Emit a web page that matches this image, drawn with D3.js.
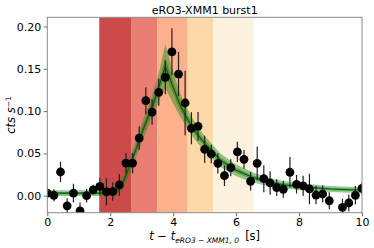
<!DOCTYPE html>
<html>
<head>
<meta charset="utf-8">
<script src="https://cdn.jsdelivr.net/npm/d3@7"></script>
<style>
  body { margin: 0; background: #fff; }
  svg { font-family: "DejaVu Sans", sans-serif; }
</style>
</head>
<body>
<div id="chart-area"></div>
<script>
const times = [0, 0.21, 0.42, 0.63, 0.83, 1.04, 1.25, 1.46, 1.67, 1.88, 2.08, 2.29, 2.5, 2.71, 2.92, 3.13,
  3.33, 3.54, 3.75, 3.96, 4.17, 4.38, 4.58, 4.79, 5.0, 5.21, 5.42, 5.63, 5.83, 6.04, 6.25, 6.46,
  6.67, 6.88, 7.08, 7.29, 7.5, 7.71, 7.92, 8.13, 8.33, 8.54, 8.75, 8.96, 9.38, 9.58, 9.79, 10.0];
const rates = [0.003, 0.0005, 0.028, -0.012, 0.003, -0.018, 0.0, 0.007, 0.011, 0.0045, 0.005, 0.0127, 0.0386, 0.0386, 0.068, 0.1123,
  0.0989, 0.1222, 0.1399, 0.170, 0.1438, 0.1096, 0.0797, 0.082, 0.0548, 0.0493, 0.0383, 0.0236, 0.0331, 0.0517, 0.043, 0.017,
  0.0383, 0.0201, 0.015, 0.0095, 0.0076, 0.0277, 0.0135, 0.0115, 0.008, 0.0008, 0.002, -0.006, -0.0137, -0.0086, 0.0005, 0.0087];
const errors = [0.007, 0.007, 0.012, 0.009, 0.011, 0.010, 0.008, 0.006, 0.010, 0.016, 0.011, 0.013, 0.012, 0.012, 0.014, 0.016,
  0.015, 0.016, 0.020, 0.028, 0.026, 0.038, 0.019, 0.017, 0.016, 0.011, 0.012, 0.012, 0.010, 0.012, 0.011, 0.011,
  0.020, 0.016, 0.014, 0.010, 0.010, 0.018, 0.011, 0.012, 0.018, 0.011, 0.010, 0.010, 0.010, 0.010, 0.011, 0.007];

// model fit: median and half widths of the two bands
const modelT = [0, 1.0, 2.0, 2.2, 2.4, 2.6, 2.8, 3.0, 3.2, 3.4, 3.6, 3.75, 4.0, 4.2, 4.4, 4.6, 4.8, 5.0, 5.5, 6.0, 6.5, 7.0, 7.5, 8.0, 9.0, 10.0];
const modelMid = [0.003, 0.003, 0.003, 0.005, 0.015, 0.034, 0.053, 0.074, 0.093, 0.112, 0.135, 0.153, 0.128, 0.109, 0.094, 0.0816, 0.071, 0.062, 0.042, 0.030, 0.022, 0.0166, 0.013, 0.0107, 0.008, 0.0065];
const modelOuter = [0.0035, 0.0035, 0.0035, 0.005, 0.008, 0.009, 0.010, 0.011, 0.012, 0.014, 0.019, 0.026, 0.019, 0.014, 0.012, 0.011, 0.010, 0.009, 0.008, 0.007, 0.006, 0.005, 0.0045, 0.004, 0.0035, 0.0035];
const modelInner = [0.0015, 0.0015, 0.0015, 0.002, 0.003, 0.0035, 0.004, 0.0045, 0.005, 0.006, 0.007, 0.010, 0.007, 0.006, 0.005, 0.0045, 0.004, 0.004, 0.0035, 0.003, 0.0025, 0.002, 0.002, 0.0018, 0.0015, 0.0015];

// shaded intervals
const bandEdges = [1.65, 2.66, 3.49, 4.46, 5.28, 6.55];
const bandColors = ["#cb4b4b", "#e97f72", "#fcb08c", "#fdd9a9", "#fdf1df"];

const xTicks = [0, 2, 4, 6, 8, 10];
const yTicks = [0, 0.05, 0.10, 0.15, 0.20];

const chartSize = { width: 374, height: 248 };
const margin = { left: 47.3, right: 12, top: 17.3, bottom: 35.3 };
const width = chartSize.width - margin.left - margin.right;
const height = chartSize.height - margin.top - margin.bottom;

const svg = d3.select("#chart-area").append("svg")
  .attr("width", chartSize.width)
  .attr("height", chartSize.height);

svg.append("defs").append("clipPath").attr("id", "clip")
  .append("rect").attr("width", width).attr("height", height);

const g = svg.append("g").attr("transform", `translate(${margin.left},${margin.top})`);

const x = d3.scaleLinear().domain([0, 10]).range([0, width]);
const y = d3.scaleLinear().domain([-0.0201, 0.2109]).range([height, 0]);

const plot = g.append("g").attr("clip-path", "url(#clip)");

// colored time intervals
plot.selectAll("rect.band").data(bandColors).enter().append("rect")
  .attr("class", "band")
  .attr("x", (c, i) => x(bandEdges[i]))
  .attr("width", (c, i) => x(bandEdges[i + 1]) - x(bandEdges[i]))
  .attr("y", 0)
  .attr("height", height)
  .attr("fill", c => c);

// model bands
const model = modelT.map((t, i) => ({ t, m: modelMid[i], o: modelOuter[i], n: modelInner[i] }));
const area = (w) => d3.area()
  .x(d => x(d.t))
  .y0(d => y(d.m - d[w]))
  .y1(d => y(d.m + d[w]));

plot.append("path").datum(model)
  .attr("d", area("o"))
  .attr("fill", "rgba(20,140,20,0.45)");
plot.append("path").datum(model)
  .attr("d", area("n"))
  .attr("fill", "rgba(0,110,0,0.4)");
plot.append("path").datum(model)
  .attr("d", d3.line().x(d => x(d.t)).y(d => y(d.m)))
  .attr("fill", "none")
  .attr("stroke", "#0b5e0b")
  .attr("stroke-width", 1.1);

// data points with error bars
const points = times.map((t, i) => ({ t, v: rates[i], e: errors[i] }));
plot.selectAll("line.err").data(points).enter().append("line")
  .attr("class", "err")
  .attr("x1", d => x(d.t)).attr("x2", d => x(d.t))
  .attr("y1", d => y(d.v - d.e)).attr("y2", d => y(d.v + d.e))
  .attr("stroke", "#222")
  .attr("stroke-width", 1.2);
plot.selectAll("circle").data(points).enter().append("circle")
  .attr("cx", d => x(d.t))
  .attr("cy", d => y(d.v))
  .attr("r", 4.4)
  .attr("fill", "#000");

// axes
const xAxis = g.append("g")
  .attr("transform", `translate(0,${height})`)
  .call(d3.axisBottom(x).tickValues(xTicks).tickFormat(d3.format("d")).tickSize(3.5).tickPadding(2.5));
const yAxis = g.append("g")
  .call(d3.axisLeft(y).tickValues(yTicks).tickFormat(d3.format(".2f")).tickSize(3.5).tickPadding(2.5));

[xAxis, yAxis].forEach(a => {
  a.select(".domain").remove();
  a.selectAll("line").attr("stroke", "#444").attr("stroke-width", 0.8);
  a.selectAll("text").attr("font-size", 11).attr("fill", "#000")
    .attr("font-family", "DejaVu Sans");
});

g.append("rect")
  .attr("width", width).attr("height", height)
  .attr("fill", "none")
  .attr("stroke", "#8a8a8a")
  .attr("stroke-width", 1);

// title
svg.append("text")
  .attr("x", margin.left + width / 2)
  .attr("y", 14)
  .attr("text-anchor", "middle")
  .attr("font-size", 11)
  .text("eRO3-XMM1 burst1");

// x label
const xl = svg.append("text")
  .attr("x", margin.left + width / 2)
  .attr("y", 240)
  .attr("text-anchor", "middle")
  .attr("font-size", 11.5);
xl.append("tspan").attr("font-style", "italic").text("t");
xl.append("tspan").text(" − ");
xl.append("tspan").attr("font-style", "italic").text("t");
xl.append("tspan").attr("font-style", "italic").attr("font-size", 7.5).attr("dy", 2.5).text("eRO3 − XMM1, 0");
xl.append("tspan").attr("dy", -2.5).attr("dx", 6).text("[s]");

// y label
const yl = svg.append("text")
  .attr("transform", `translate(15,${margin.top + height / 2}) rotate(-90)`)
  .attr("text-anchor", "middle")
  .attr("font-size", 11.5);
yl.append("tspan").attr("font-style", "italic").text("cts s");
yl.append("tspan").attr("font-size", 7.5).attr("dy", -4).text("−1");
</script>
</body>
</html>
